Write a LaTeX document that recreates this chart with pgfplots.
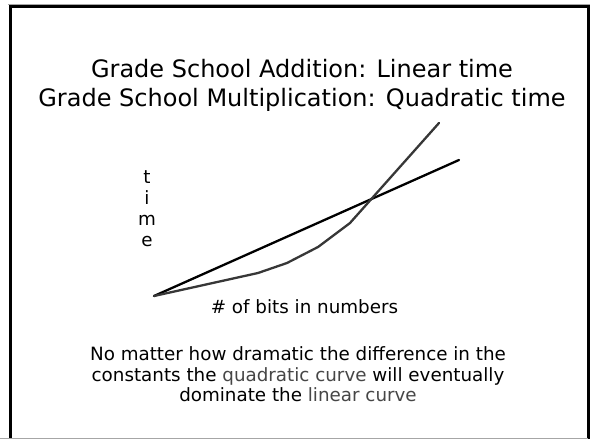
\documentclass[border=0pt]{standalone}
\usepackage{fontspec}
\setmainfont{DejaVu Sans}
\usepackage{pgfplots}
\pgfplotsset{compat=1.18}
\definecolor{quadgray}{RGB}{55,55,55}
\definecolor{wordgray}{RGB}{70,70,70}
\begin{document}
\begin{tikzpicture}
\begin{axis}[
  scale only axis, width=590pt, height=439pt,
  xmin=0, xmax=590, ymin=0, ymax=439, y dir=reverse,
  axis lines=none, clip=false]
% slide frame
\draw[gray!70, line width=1.5pt] (8,4.5) -- (590,4.5);
\draw[black, line width=3pt] (10.5,450) -- (10.5,6.5) -- (588.5,6.5) -- (588.5,450);
\draw[gray!70, line width=1.5pt] (0,438.3) -- (588,438.3);
% curves
\addplot[black, line width=2.3pt, line cap=round] coordinates {(154,296) (459,160)};
\addplot[quadgray, line width=2.3pt, line join=round, line cap=round] coordinates {(154,296) (258,273) (287,263) (318,247) (350,223) (439,123)};
% title
\node[anchor=base, font=\fontsize{24}{33}\selectfont] at (302,77) {Grade School Addition: Linear time};
\node[anchor=base, font=\fontsize{24}{33}\selectfont] at (302,106) {Grade School Multiplication: Quadratic time};
% axis labels
\node[anchor=base, font=\fontsize{18.3}{21}\selectfont] at (304.5,313) {\# of bits in numbers};
\node[anchor=base, font=\fontsize{18.3}{21}\selectfont] at (147,183) {t};
\node[anchor=base, font=\fontsize{18.3}{21}\selectfont] at (147,204) {i};
\node[anchor=base, font=\fontsize{18.3}{21}\selectfont] at (147,225) {m};
\node[anchor=base, font=\fontsize{18.3}{21}\selectfont] at (147,246) {e};
% bottom text
\node[anchor=base, font=\fontsize{18.3}{21}\selectfont] at (298,360) {No matter how dramatic the difference in the};
\node[anchor=base, font=\fontsize{18.3}{21}\selectfont] at (298,381) {constants the \textcolor{wordgray}{quadratic curve} will eventually};
\node[anchor=base, font=\fontsize{18.3}{21}\selectfont] at (298,401) {dominate the \textcolor{wordgray}{linear curve}};
\end{axis}
\pgfresetboundingbox
\useasboundingbox (current axis.south west) rectangle (current axis.north east);
\end{tikzpicture}
\end{document}
